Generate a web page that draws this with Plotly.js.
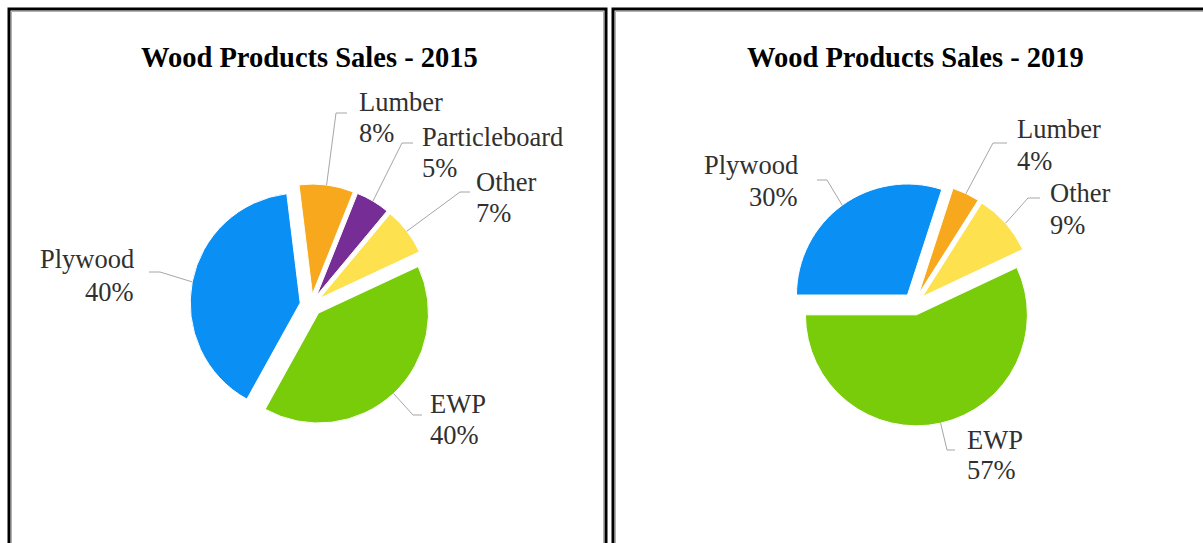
<!DOCTYPE html>
<html>
<head>
<meta charset="utf-8">
<script src="https://cdn.plot.ly/plotly-3.0.1.min.js"></script>
<style>html,body{margin:0;padding:0;background:#fff;}#chart{width:1203px;height:543px;}</style>
</head>
<body>
<div id="chart"></div>
<script>
// ---- Data ----
const titles = ["Wood Products Sales - 2015", "Wood Products Sales - 2019"];
const cats2015 = ["Lumber", "Particleboard", "Other", "EWP", "Plywood"];
const vals2015 = [8, 5, 7, 40, 40];
const cats2019 = ["Lumber", "Other", "EWP", "Plywood"];
const vals2019 = [4, 9, 57, 30];

// ---- Styles ----
const colorMap = {
  Plywood: "#0a8ff5",
  EWP: "#78cc0a",
  Lumber: "#f8a81c",
  Particleboard: "#762d96",
  Other: "#fde14f"
};
const W = 1203, H = 543;
const FONT = "'Liberation Serif', 'Times New Roman', serif";
const PULL = 0.1;

// pie placement (pixel centre and radius)
const pies = [
  {cats: cats2015, vals: vals2015, cx: 311, cy: 305, r: 110, rotation: -7, titleX: 309, titleY: 58},
  {cats: cats2019, vals: vals2019, cx: 914, cy: 304, r: 111, rotation: 18, titleX: 915, titleY: 58}
];

// label placement (pixels): label x, line centres y1/y2, elbow of leader, end of leader
const labelPos = [
  {
    Lumber:        {x: 357, y1: 102, y2: 133, side: "left",  ex: 336, ey: 113, hx: 347},
    Particleboard: {x: 420, y1: 137, y2: 168, side: "left",  ex: 402, ey: 143, hx: 413},
    Other:         {x: 474, y1: 182, y2: 213, side: "left",  ex: 460, ey: 192, hx: 470},
    Plywood:       {x: 136, y1: 259, y2: 292, side: "right", ex: 160, ey: 272, hx: 149},
    EWP:           {x: 428, y1: 404, y2: 435, side: "left",  ex: 413, ey: 415, hx: 422}
  },
  {
    Lumber:  {x: 1015, y1: 129, y2: 161, side: "left",  ex: 993, ey: 143, hx: 1007},
    Other:   {x: 1048, y1: 193, y2: 225, side: "left",  ex: 1028, ey: 198, hx: 1040},
    Plywood: {x: 800,  y1: 165, y2: 197, side: "right", ex: 827, ey: 180, hx: 817},
    EWP:     {x: 965,  y1: 440, y2: 470, side: "left",  ex: 947, ey: 450, hx: 955}
  }
];

const px = x => x / W;
const py = y => 1 - y / H;

const traces = [];
const shapes = [];
const annotations = [];
const labelFont = {family: FONT, size: 26.5, color: "#303030"};

pies.forEach((p, k) => {
  const half = p.r * (1 + PULL);
  traces.push({
    type: "pie",
    labels: p.cats,
    values: p.vals,
    sort: false,
    direction: "clockwise",
    rotation: p.rotation,
    pull: PULL,
    textinfo: "none",
    hoverinfo: "label+percent",
    marker: {colors: p.cats.map(c => colorMap[c]), line: {color: "#ffffff", width: 1}},
    domain: {x: [px(p.cx - half), px(p.cx + half)], y: [py(p.cy + half), py(p.cy - half)]}
  });

  // compute slice mid-angles from the data and draw leader lines + labels
  const total = p.vals.reduce((a, b) => a + b, 0);
  let ang = p.rotation * Math.PI / 180;
  p.cats.forEach((c, i) => {
    const span = 2 * Math.PI * p.vals[i] / total;
    const mid = ang + span / 2;
    ang += span;
    const s = Math.sin(mid), co = -Math.cos(mid);
    const sx = p.cx + (PULL * p.r + p.r) * s;
    const sy = p.cy + (PULL * p.r + p.r) * co;
    const L = labelPos[k][c];
    shapes.push({
      type: "path", xref: "paper", yref: "paper",
      path: `M ${px(sx)} ${py(sy)} L ${px(L.ex)} ${py(L.ey)} L ${px(L.hx)} ${py(L.ey)}`,
      line: {color: "#a6a6a6", width: 1}
    });
    const pct = Math.round(100 * p.vals[i] / total);
    [[c, L.y1], [`${pct}%`, L.y2]].forEach(([t, yy]) => {
      annotations.push({
        xref: "paper", yref: "paper", x: px(L.x), y: py(yy),
        xanchor: L.side, yanchor: "middle", align: L.side,
        text: t, showarrow: false, font: labelFont
      });
    });
  });

  annotations.push({
    xref: "paper", yref: "paper", x: px(p.titleX), y: py(p.titleY),
    xanchor: "center", yanchor: "middle",
    text: `<b>${titles[k]}</b>`, showarrow: false,
    font: {family: FONT, size: 28.5, color: "#000000"}
  });
});

// panel borders
[[9, 606], [613, 1215]].forEach(([a, b]) => {
  shapes.push({type: "rect", xref: "paper", yref: "paper", layer: "above",
    x0: px(a), x1: px(b), y0: py(H + 20), y1: py(9), line: {color: "#000", width: 3}});
  shapes.push({type: "rect", xref: "paper", yref: "paper", layer: "above",
    x0: px(a + 2.5), x1: px(b - 2.5), y0: py(H + 20), y1: py(11.5), line: {color: "#b0b0b0", width: 1}});
});

Plotly.newPlot("chart", traces, {
  width: W, height: H,
  margin: {l: 0, r: 0, t: 0, b: 0},
  showlegend: false,
  paper_bgcolor: "#ffffff",
  shapes: shapes,
  annotations: annotations
}, {displayModeBar: false, staticPlot: true});
</script>
</body>
</html>
